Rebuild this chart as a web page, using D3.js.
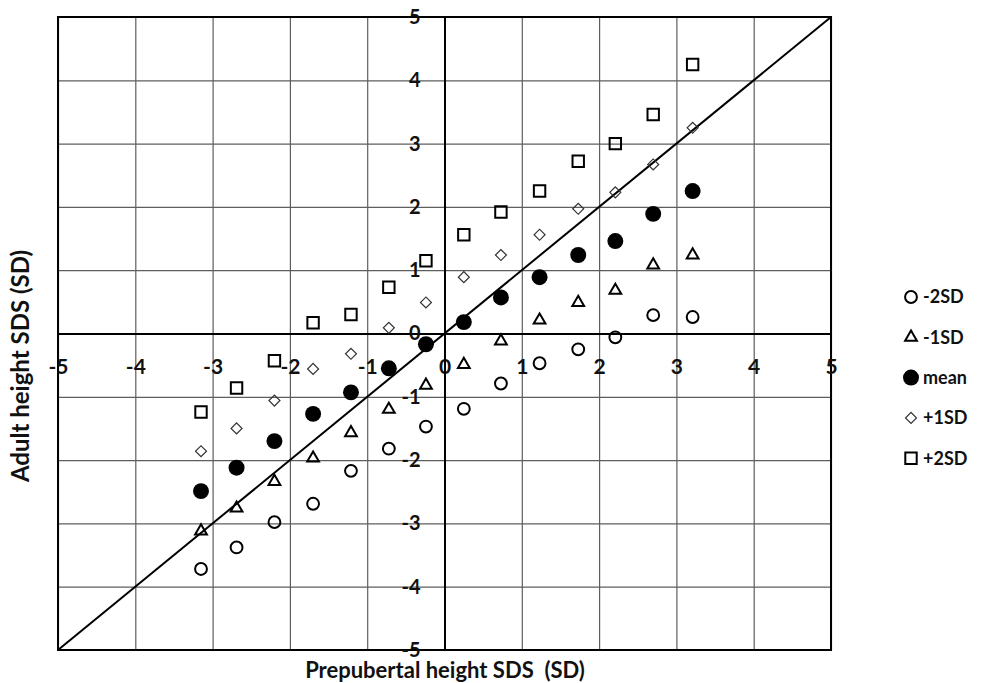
<!DOCTYPE html>
<html>
<head>
<meta charset="utf-8">
<script src="https://cdn.jsdelivr.net/npm/d3@7"></script>
<style>
  body { margin: 0; background: #fff; }
  svg { display: block; }
  text { font-family: Lato, "Open Sans", sans-serif; font-weight: bold; fill: #111; white-space: pre; }
</style>
</head>
<body>
<svg id="chart" width="995" height="683"></svg>
<script>
// prepubertal height SDS (x) shared by all series
const xVals = [-3.15, -2.69, -2.2, -1.7, -1.21, -0.72, -0.24, 0.25, 0.73, 1.23, 1.73, 2.21, 2.7, 3.21];

// adult height SDS per series
const minus2SD = [-3.72, -3.38, -2.98, -2.69, -2.17, -1.82, -1.47, -1.19, -0.79, -0.47, -0.25, -0.06, 0.29, 0.26];
const minus1SD = [-3.12, -2.76, -2.34, -1.97, -1.57, -1.2, -0.82, -0.49, -0.12, 0.21, 0.49, 0.68, 1.08, 1.24];
const meanSD   = [-2.49, -2.12, -1.7, -1.27, -0.93, -0.55, -0.17, 0.18, 0.57, 0.89, 1.24, 1.46, 1.89, 2.25];
const plus1SD  = [-1.86, -1.5, -1.06, -0.56, -0.32, 0.09, 0.49, 0.89, 1.24, 1.56, 1.97, 2.23, 2.67, 3.25];
const plus2SD  = [-1.24, -0.86, -0.43, 0.17, 0.3, 0.73, 1.15, 1.56, 1.92, 2.25, 2.72, 3.0, 3.46, 4.25];

const seriesNames = ["-2SD", "-1SD", "mean", "+1SD", "+2SD"];
const seriesData = [minus2SD, minus1SD, meanSD, plus1SD, plus2SD];
const ticks = [-5, -4, -3, -2, -1, 0, 1, 2, 3, 4, 5];

// marker styles
const markers = {
  "-2SD": { type: d3.symbolCircle, size: 110, fill: "none", stroke: "#000", sw: 2, rot: 0 },
  "-1SD": { type: d3.symbolTriangle, size: 60, fill: "none", stroke: "#000", sw: 2, rot: 0 },
  "mean": { type: d3.symbolCircle, size: 200, fill: "#000", stroke: "none", sw: 0, rot: 0 },
  "+1SD": { type: d3.symbolSquare, size: 60, fill: "none", stroke: "#333", sw: 1.2, rot: 45 },
  "+2SD": { type: d3.symbolSquare, size: 130, fill: "none", stroke: "#000", sw: 2, rot: 0 }
};

const svg = d3.select("#chart");
const margin = { top: 17, right: 164, bottom: 33, left: 58 };
const width = 831 - margin.left;
const height = 650 - margin.top;
const g = svg.append("g").attr("transform", "translate(" + margin.left + "," + margin.top + ")");

const x = d3.scaleLinear().domain([-5, 5]).range([0, width]);
const y = d3.scaleLinear().domain([-5, 5]).range([height, 0]);
const fmt = d => String(d); // plain hyphen, as in the original

// grid
g.append("g")
  .attr("transform", "translate(0," + height + ")")
  .call(d3.axisBottom(x).tickValues(ticks).tickSize(-height).tickFormat(""))
  .call(a => a.select(".domain").remove())
  .call(a => a.selectAll("line").attr("stroke", "#5e5e5e").attr("stroke-width", 1.2));
g.append("g")
  .call(d3.axisLeft(y).tickValues(ticks).tickSize(-width).tickFormat(""))
  .call(a => a.select(".domain").remove())
  .call(a => a.selectAll("line").attr("stroke", "#5e5e5e").attr("stroke-width", 1.2));

// frame
g.append("rect")
  .attr("width", width).attr("height", height)
  .attr("fill", "none").attr("stroke", "#000").attr("stroke-width", 2);

// axes through zero
g.append("g")
  .attr("transform", "translate(0," + y(0) + ")")
  .call(d3.axisBottom(x).tickValues(ticks).tickSize(0).tickPadding(26).tickFormat(fmt))
  .call(a => a.select(".domain").attr("stroke", "#000").attr("stroke-width", 2))
  .call(a => a.selectAll("text").attr("font-size", 21).attr("fill", "#111").attr("font-family", null));
g.append("g")
  .attr("transform", "translate(" + x(0) + ",0)")
  .call(d3.axisLeft(y).tickValues(ticks).tickSize(0).tickPadding(24).tickFormat(fmt))
  .call(a => a.select(".domain").attr("stroke", "#000").attr("stroke-width", 2))
  .call(a => a.selectAll("text").attr("font-size", 20).attr("fill", "#111").attr("font-family", null));

// identity line
const line = d3.line().x(d => x(d)).y(d => y(d));
g.append("path")
  .datum([-5, 5])
  .attr("fill", "none")
  .attr("stroke", "#000")
  .attr("stroke-width", 2)
  .attr("d", line);

// points
seriesNames.forEach(function (name, si) {
  const m = markers[name];
  const sym = d3.symbol().type(m.type).size(m.size);
  g.selectAll(null)
    .data(seriesData[si].map((v, i) => ({ x: xVals[i], y: v })))
    .enter()
    .append("path")
    .attr("d", sym)
    .attr("transform", d => "translate(" + x(d.x) + "," + y(d.y) + ") rotate(" + m.rot + ")")
    .attr("fill", m.fill)
    .attr("stroke", m.stroke)
    .attr("stroke-width", m.sw);
});

// axis titles
svg.append("text")
  .attr("x", 445).attr("y", 678)
  .attr("text-anchor", "middle")
  .attr("font-size", 22)
  .text("Prepubertal height SDS  (SD)");
svg.append("text")
  .attr("transform", "translate(29,366) rotate(-90)")
  .attr("text-anchor", "middle")
  .attr("font-size", 24)
  .text("Adult height SDS (SD)");

// legend
const legend = svg.append("g").attr("transform", "translate(911,297)");
seriesNames.forEach(function (name, i) {
  const m = markers[name];
  const row = legend.append("g").attr("transform", "translate(0," + i * 40.3 + ")");
  row.append("path")
    .attr("d", d3.symbol().type(m.type).size(m.size)())
    .attr("transform", "rotate(" + m.rot + ")")
    .attr("fill", m.fill)
    .attr("stroke", m.stroke)
    .attr("stroke-width", m.sw);
  row.append("text")
    .attr("x", 12).attr("dy", "0.35em")
    .attr("font-size", 18)
    .text(name);
});
</script>
</body>
</html>
